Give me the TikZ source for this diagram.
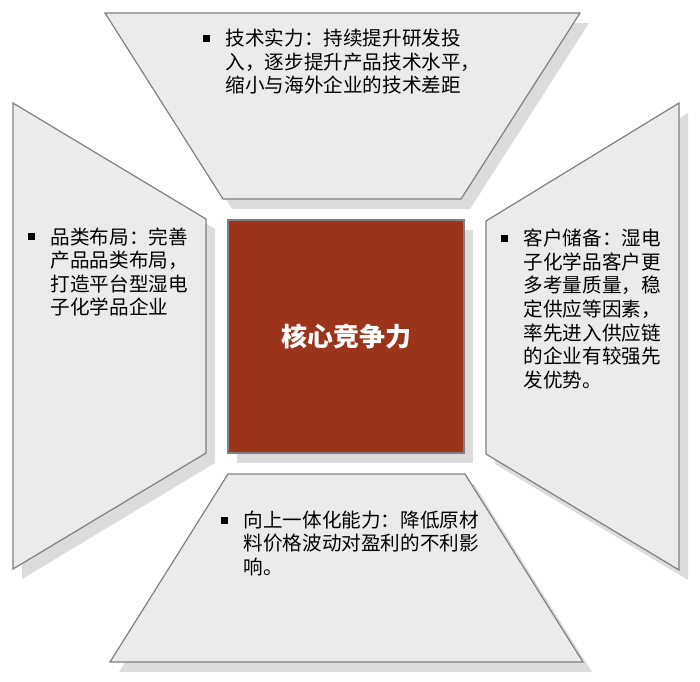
\documentclass[tikz,border=0pt]{standalone}
\usepackage{fontspec}
\setmainfont{Noto Sans CJK SC}
\usetikzlibrary{shadows}
\definecolor{panelgray}{RGB}{235,235,235}
\definecolor{edgegray}{RGB}{128,128,128}
\definecolor{shadegray}{RGB}{220,220,220}
\definecolor{brick}{RGB}{155,52,26}
\newcommand{\sq}{\raisebox{3.9pt}{\rule{7pt}{7pt}}}

\begin{document}
\begin{tikzpicture}[x=1pt, y=-1pt,
  shadowed/.style = {drop shadow={shadow xshift=9pt, shadow yshift=-10pt, fill=shadegray, opacity=1}},
  panel/.style = {shadowed, fill=panelgray, draw=edgegray, line width=1.2pt},
  core/.style = {shadowed, fill=brick, draw=edgegray, line width=1.2pt, minimum width=236pt, minimum height=233pt, text=white, font=\fontsize{26}{30}\selectfont\bfseries},
  note/.style = {anchor=base west, inner sep=0pt, font=\fontsize{19.6}{23.3}\selectfont}]
\useasboundingbox (0,0) rectangle (700,681);

% four panels round the core
\draw[panel] (105,13) -- (580,13) -- (461,199) -- (223,199) -- cycle;
\draw[panel] (13,103) -- (206,219) -- (206,453) -- (13,569) -- cycle;
\draw[panel] (679,103) -- (486,221) -- (486,454) -- (679,570) -- cycle;
\draw[panel] (228,474) -- (465,474) -- (583,662) -- (110,662) -- cycle;

\node[core] (core) at (346,336.5) {核心竞争力};

% texts
\node[note] (tech) at (203,45.7) {\begin{tabular}[t]{@{}l@{\hspace{15.5pt}}l@{}}
  \sq & 技术实力：持续提升研发投\\
      & 入，逐步提升产品技术水平，\\
      & 缩小与海外企业的技术差距
\end{tabular}};
\node[note] (range) at (28,244.1) {\begin{tabular}[t]{@{}l@{\hspace{15.5pt}}l@{}}
  \sq & 品类布局：完善\\
      & 产品品类布局，\\
      & 打造平台型湿电\\
      & 子化学品企业
\end{tabular}};
\node[note] (client) at (501,245.7) {\begin{tabular}[t]{@{}l@{\hspace{15.5pt}}l@{}}
  \sq & 客户储备：湿电\\
      & 子化学品客户更\\
      & 多考量质量，稳\\
      & 定供应等因素，\\
      & 率先进入供应链\\
      & 的企业有较强先\\
      & 发优势。
\end{tabular}};
\node[note] (chain) at (221,527.4) {\begin{tabular}[t]{@{}l@{\hspace{15.5pt}}l@{}}
  \sq & 向上一体化能力：降低原材\\
      & 料价格波动对盈利的不利影\\
      & 响。
\end{tabular}};

\end{tikzpicture}
\end{document}
